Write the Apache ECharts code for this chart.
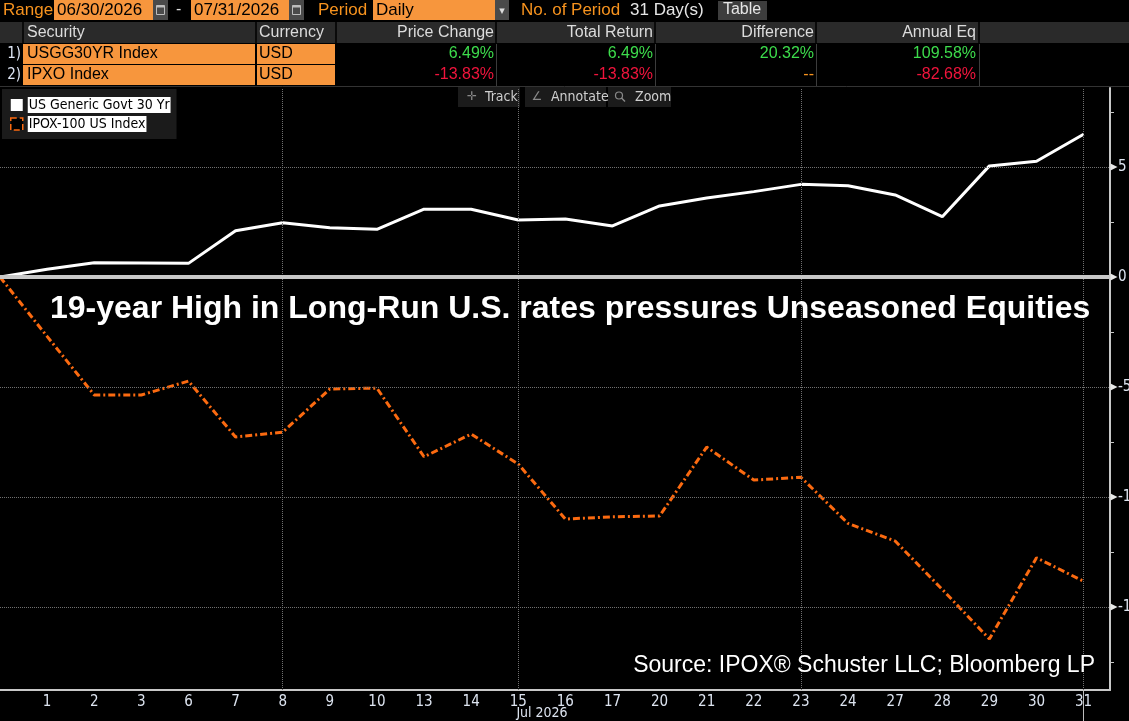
<!DOCTYPE html>
<html>
<head>
<meta charset="utf-8">
<title>USGG30YR vs IPOX-100</title>
<script src="https://cdn.jsdelivr.net/npm/echarts@6.0.0/dist/echarts.min.js"></script>
<style>
  html, body { margin: 0; padding: 0; background: #000; }
  #chart { width: 1129px; height: 721px; }
</style>
</head>
<body>
<div id="chart"></div>
<script>
(function(){
	'use strict';

	// x axis: trading days, the Jun 30 start point carries no label
	var dayLabels = ['', '1', '2', '3', '6', '7', '8', '9', '10', '13', '14', '15', '16', '17',
		'20', '21', '22', '23', '24', '27', '28', '29', '30', '31'];
	// cumulative % change since 06/30/2026
	var usgg30yr = [0, 0.35, 0.65, 0.64, 0.62, 2.10, 2.47, 2.24, 2.17, 3.08, 3.08, 2.59, 2.64, 2.32,
		3.23, 3.59, 3.88, 4.21, 4.15, 3.73, 2.74, 5.05, 5.26, 6.49];
	var ipox100 = [0, -2.70, -5.36, -5.36, -4.73, -7.27, -7.05, -5.09, -5.05, -8.17, -7.14, -8.50, -11.00, -10.90,
		-10.86, -7.73, -9.23, -9.10, -11.20, -12.00, -14.20, -16.45, -12.76, -13.83];
	var seriesNames = ['US Generic Govt 30 Yr', 'IPOX-100 US Index'];

	// table above the chart
	var securities = ['USGG30YR Index', 'IPXO Index'];
	var currencies = ['USD', 'USD'];
	var tableHeads = ['Security', 'Currency', 'Price Change', 'Total Return', 'Difference', 'Annual Eq'];
	var priceChange = ['6.49%', '-13.83%'];
	var totalReturn = ['6.49%', '-13.83%'];
	var difference = ['20.32%', '--'];
	var annualEq = ['109.58%', '-82.68%'];

	// axis ticks
	var gridDays = ['8', '15', '23', '31'];
	var yLabels = [5, 0, -5, -10, -15];
	var yMinorTicks = [7.5, 2.5, -2.5, -7.5, -12.5, -17.5];

	var SANS = "'Liberation Sans', Arial, sans-serif";
	var NARROW = "'Liberation Sans Narrow', 'DejaVu Sans Condensed', sans-serif";
	var ORANGE = '#f7963d', ORANGE_TXT = '#f7931e', LINE_ORANGE = '#fb6a10';
	var GREEN = '#3ddc4c', RED = '#f0143c', AXIS_TXT = '#dde4f0';

	var X_MAX = 23.56, Y_MIN = -18.77, Y_MAX = 8.59;

	var chart = echarts.init(document.getElementById('chart'));

	/** small graphic helpers **/
	var box = function(x, y, w, h, fill){
		return {type: 'rect', silent: true, shape: {x: x, y: y, width: w, height: h}, style: {fill: fill}};
	};
	var txt = function(x, y, s, color, opt){
		opt = opt || {};
		return {type: 'text', silent: true, x: x, y: y, z: 10, style: {
			text: s, fill: color, align: opt.align || 'left', verticalAlign: 'middle',
			fontFamily: opt.font || SANS, fontSize: opt.size || 16, fontWeight: opt.weight || 'normal'
		}};
	};
	var vline = function(x, y1, y2, color, w){
		return {type: 'line', silent: true, shape: {x1: x, y1: y1, x2: x, y2: y2}, style: {stroke: color, lineWidth: w || 1}};
	};
	var calIcon = function(x){
		return [
			box(x, 0, 15, 20, '#4a4a4a'),
			{type: 'rect', silent: true, shape: {x: x + 3.5, y: 5.5, width: 8, height: 9}, style: {fill: 'none', stroke: '#bdbdbd'}},
			box(x + 3.5, 5.5, 8, 2, '#bdbdbd')
		];
	};
	var valColor = function(s){
		if (s === '--') return ORANGE_TXT;
		return s.charAt(0) === '-' ? RED : GREEN;
	};

	var g = [];

	// range / period bar
	g.push(txt(3, 10, 'Range', ORANGE_TXT, {size: 17}));
	g.push(box(54, 0, 99, 20, ORANGE), txt(57, 10, '06/30/2026', '#000', {size: 17}));
	g = g.concat(calIcon(153));
	g.push(txt(176, 10, '-', '#ddd'));
	g.push(box(191, 0, 98, 20, ORANGE), txt(194, 10, '07/31/2026', '#000', {size: 17}));
	g = g.concat(calIcon(289));
	g.push(txt(318, 10, 'Period', ORANGE_TXT, {size: 17}));
	g.push(box(373, 0, 122, 20, ORANGE), txt(376, 10, 'Daily', '#000', {size: 17}));
	g.push(box(495, 0, 14, 20, '#4a4a4a'), txt(502, 11, '\u25BE', '#ddd', {align: 'center', size: 11, font: 'DejaVu Sans'}));
	g.push(txt(521, 10, 'No. of Period', ORANGE_TXT, {size: 17}));
	g.push(txt(630, 10, '31 Day(s)', '#e6e6e6', {size: 17}));
	g.push(box(718, 1, 49, 19, '#3d3d3d'), txt(742, 10, 'Table', '#e6e6e6', {align: 'center'}));

	// table header
	var colSep = [23, 256, 336, 496, 655, 816, 979];
	var colRight = [494, 653, 814, 976];
	g.push(box(0, 22, 1129, 21, '#2a2a2a'));
	colSep.forEach(function(x){ g.push(vline(x, 22, 43, '#0a0a0a', 2)); });
	g.push(txt(27, 33, tableHeads[0], '#dcdcdc'), txt(259, 33, tableHeads[1], '#dcdcdc'));
	colRight.forEach(function(x, i){ g.push(txt(x, 33, tableHeads[i + 2], '#dcdcdc', {align: 'right'})); });

	// table rows
	colSep.slice(3).forEach(function(x){ g.push(vline(x + 0.5, 44, 86, '#3c3c3c', 1)); });
	securities.forEach(function(sec, r){
		var y0 = 44 + r * 21, cy = y0 + 10;
		var vals = [priceChange[r], totalReturn[r], difference[r], annualEq[r]];
		g.push(txt(21, cy, (r + 1) + ')', '#dfe6f5', {align: 'right', size: 15, font: NARROW}));
		g.push(box(23, y0, 232, 20, ORANGE), txt(27, cy, sec, '#000'));
		g.push(box(257, y0, 78, 20, ORANGE), txt(259, cy, currencies[r], '#000'));
		vals.forEach(function(v, i){ g.push(txt(colRight[i], cy, v, valColor(v), {align: 'right'})); });
	});
	g.push({type: 'line', silent: true, shape: {x1: 0, y1: 86.5, x2: 1129, y2: 86.5}, style: {stroke: '#333', lineWidth: 1}});

	// chart toolbar
	g.push(box(458, 87, 62, 20, '#1b1b1b'), txt(472, 97, '\u271B', '#8a8a8a', {align: 'center', size: 12, font: 'DejaVu Sans'}),
		txt(485, 97, 'Track', '#cfcfcf', {size: 14, font: NARROW}));
	g.push(box(525, 87, 81, 20, '#1b1b1b'), txt(537, 97, '\u2220', '#8a8a8a', {align: 'center', size: 12, font: 'DejaVu Sans'}),
		txt(551, 97, 'Annotate', '#cfcfcf', {size: 14, font: NARROW}));
	g.push(box(608, 87, 63, 20, '#1b1b1b'),
		{type: 'circle', silent: true, z: 10, shape: {cx: 619, cy: 95.5, r: 3.5}, style: {fill: 'none', stroke: '#8a8a8a', lineWidth: 1.2}},
		{type: 'line', silent: true, z: 10, shape: {x1: 621.5, y1: 98, x2: 625, y2: 101.5}, style: {stroke: '#8a8a8a', lineWidth: 1.4}},
		txt(635, 97, 'Zoom', '#cfcfcf', {size: 14, font: NARROW}));

	// headline, source and month label
	g.push(txt(50, 309, '19-year High in Long-Run U.S. rates pressures Unseasoned Equities', '#fff',
		{size: 32, weight: 'bold'}));
	g.push(txt(1095, 666, 'Source: IPOX\u00AE Schuster LLC; Bloomberg LP', '#fff', {align: 'right', size: 23}));
	g.push(txt(542, 713, 'Jul 2026', AXIS_TXT, {align: 'center', size: 14, font: NARROW}));

	var pairs = function(arr){ return arr.map(function(v, i){ return [i, v]; }); };
	var labelIdx = dayLabels.map(function(d, i){ return i; }).filter(function(i){ return dayLabels[i] !== ''; });

	var gridLines = yLabels.filter(function(v){ return v !== 0; }).map(function(v){ return {yAxis: v}; })
		.concat(gridDays.map(function(d){ return {xAxis: dayLabels.indexOf(d)}; }))
		.concat([{yAxis: 0, lineStyle: {color: '#c8c8c8', type: 'solid', width: 4}}]);

	var option = {
		backgroundColor: '#000',
		animation: false,
		grid: {left: 0, right: 19, top: 88, bottom: 31, outerBoundsMode: 'none', containLabel: false},
		legend: {
			left: 2, top: 89, orient: 'vertical', backgroundColor: '#1b1b1b',
			padding: [8, 6, 7, 8], itemGap: 3, itemWidth: 12, itemHeight: 12, icon: 'rect',
			selectedMode: false,
			textStyle: {color: '#000', backgroundColor: '#fff', fontFamily: NARROW, fontSize: 14, padding: [1, 1, 1, 1]},
			data: [
				{name: seriesNames[0], itemStyle: {color: '#fff'}},
				{name: seriesNames[1], itemStyle: {color: '#000', borderColor: LINE_ORANGE, borderWidth: 1.5, borderType: 'dashed'}}
			]
		},
		xAxis: {
			type: 'value', min: 0, max: X_MAX,
			axisLine: {show: true, onZero: false, lineStyle: {color: '#c8c8c8', width: 2}},
			axisTick: {show: true, customValues: [dayLabels.length - 1], length: 31, lineStyle: {color: '#bdbdbd'}},
			axisLabel: {
				customValues: labelIdx, margin: 5, color: AXIS_TXT, fontFamily: NARROW, fontSize: 15,
				formatter: function(v){ return dayLabels[Math.round(v)]; }
			},
			splitLine: {show: false}
		},
		yAxis: {
			type: 'value', position: 'right', min: Y_MIN, max: Y_MAX,
			axisLine: {show: true, onZero: false, lineStyle: {color: '#c8c8c8', width: 2}},
			axisTick: {show: true, customValues: yMinorTicks, length: 4, lineStyle: {color: '#c8c8c8'}},
			axisLabel: {customValues: yLabels, margin: 8, color: AXIS_TXT, fontFamily: NARROW, fontSize: 15},
			splitLine: {show: false}
		},
		series: [
			{
				// grid lines + axis arrows only
				name: 'grid', type: 'line', data: [], silent: true, z: 1,
				markLine: {
					silent: true, symbol: ['none', 'none'], label: {show: false},
					lineStyle: {color: '#707070', type: 'dotted', width: 1},
					data: gridLines
				},
				markPoint: {
					silent: true, symbol: 'triangle', symbolSize: [7, 7], symbolRotate: -90, symbolOffset: [4, 0],
					itemStyle: {color: '#e8e8e8'}, label: {show: false},
					data: yLabels.map(function(v){ return {coord: [X_MAX, v]}; })
				}
			},
			{
				name: seriesNames[0], type: 'line', data: pairs(usgg30yr), showSymbol: false, z: 3,
				itemStyle: {color: '#fff'}, lineStyle: {color: '#fff', width: 3}
			},
			{
				name: seriesNames[1], type: 'line', data: pairs(ipox100), showSymbol: false, z: 3,
				itemStyle: {color: LINE_ORANGE}, lineStyle: {color: LINE_ORANGE, width: 3, type: [7, 3, 2, 3]}
			}
		],
		graphic: g
	};
	chart.setOption(option);
})();
</script>
</body>
</html>
